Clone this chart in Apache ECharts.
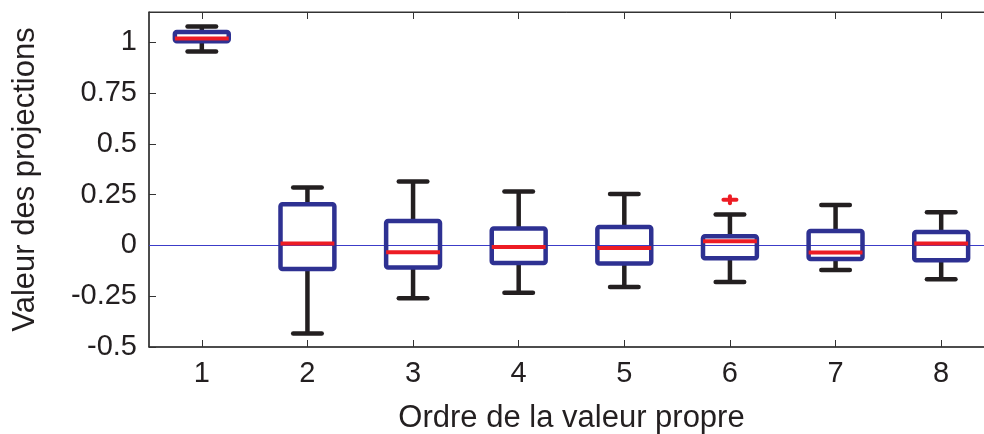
<!DOCTYPE html>
<html>
<head>
<meta charset="utf-8">
<script src="https://cdn.jsdelivr.net/npm/echarts@6/dist/echarts.min.js"></script>
<style>html,body{margin:0;padding:0;background:#fff;}#c{width:984px;height:434px;}</style>
</head>
<body>
<div id="c"></div>
<script>
const categories = ['1','2','3','4','5','6','7','8'];
const whiskerLow  = [0.955, -0.433, -0.260, -0.233, -0.205, -0.180, -0.121, -0.166];
const q1          = [1.006, -0.116, -0.108, -0.086, -0.089, -0.063, -0.066, -0.073];
const median      = [1.019,  0.010, -0.033, -0.008, -0.012,  0.021, -0.035,  0.010];
const q3          = [1.052,  0.203,  0.120,  0.084,  0.091,  0.046,  0.071,  0.067];
const whiskerHigh = [1.078,  0.286,  0.315,  0.266,  0.253,  0.152,  0.200,  0.164];
const outliers    = [['6', 0.225]];
const referenceLevel = [0];
const yTicks = [-0.5, -0.25, 0, 0.25, 0.5, 0.75, 1];

const FONT = 'Liberation Sans, Arial, Helvetica, sans-serif';
const BLUE = '#2e3192', RED = '#ed1c24', BLACK = '#231f20', REFBLUE = '#3c3cc8';

const boxData = categories.map((c, i) => [i, whiskerLow[i], q1[i], median[i], q3[i], whiskerHigh[i]]);
const outlierData = outliers.map(o => [categories.indexOf(o[0]), o[1]]);
const refData = referenceLevel.map(v => [0, v]);

function renderBox(params, api) {
  const x = api.value(0);
  const pLow = api.coord([x, api.value(1)]);
  const pQ1 = api.coord([x, api.value(2)]);
  const pMed = api.coord([x, api.value(3)]);
  const pQ3 = api.coord([x, api.value(4)]);
  const pHigh = api.coord([x, api.value(5)]);
  const band = api.size([1, 0])[0];
  const bw = band * 0.51, cw = band * 0.27;
  const cx = pMed[0];
  const wStyle = {stroke: BLACK, lineWidth: 4.5, lineCap: 'round'};
  return {
    type: 'group',
    children: [
      {type: 'line', shape: {x1: cx, y1: pQ3[1], x2: cx, y2: pHigh[1]}, style: {stroke: BLACK, lineWidth: 4.5}},
      {type: 'line', shape: {x1: cx, y1: pQ1[1], x2: cx, y2: pLow[1]}, style: {stroke: BLACK, lineWidth: 4.5}},
      {type: 'line', shape: {x1: cx - cw/2, y1: pHigh[1], x2: cx + cw/2, y2: pHigh[1]}, style: wStyle},
      {type: 'line', shape: {x1: cx - cw/2, y1: pLow[1], x2: cx + cw/2, y2: pLow[1]}, style: wStyle},
      {type: 'rect', shape: {x: cx - bw/2, y: pQ3[1], width: bw, height: pQ1[1] - pQ3[1], r: 2},
        style: {stroke: BLUE, lineWidth: 4.5, fill: 'rgba(0,0,0,0)', lineJoin: 'round'}},
      {type: 'line', shape: {x1: cx - bw/2, y1: pMed[1], x2: cx + bw/2, y2: pMed[1]}, style: {stroke: RED, lineWidth: 4}}
    ]
  };
}

function renderOutlier(params, api) {
  const p = api.coord([api.value(0), api.value(1)]);
  return {
    type: 'group',
    children: [
      {type: 'line', shape: {x1: p[0]-6.5, y1: p[1], x2: p[0]+6.5, y2: p[1]}, style: {stroke: RED, lineWidth: 4, lineCap: 'round'}},
      {type: 'line', shape: {x1: p[0], y1: p[1]-3.5, x2: p[0], y2: p[1]+3.5}, style: {stroke: RED, lineWidth: 4, lineCap: 'round'}}
    ]
  };
}

function renderRefLine(params, api) {
  const cs = params.coordSys;
  const y = Math.round(api.coord([0, api.value(1)])[1]) + 0.5;
  return {
    type: 'line',
    shape: {x1: cs.x, y1: y, x2: cs.x + cs.width, y2: y},
    style: {stroke: REFBLUE, lineWidth: 1}
  };
}

const chart = echarts.init(document.getElementById('c'), null, {renderer: 'canvas'});
chart.setOption({
  animation: false,
  backgroundColor: '#fff',
  grid: {left: 149, top: 12, right: -10, bottom: 87, containLabel: false, outerBoundsMode: 'none',
    show: true, borderColor: '#333', borderWidth: 1, backgroundColor: 'transparent'},
  xAxis: [{
    type: 'category', data: categories, position: 'bottom',
    name: 'Ordre de la valeur propre', nameLocation: 'middle', nameGap: 56,
    nameTextStyle: {fontFamily: FONT, fontSize: 31, color: '#231f20'},
    axisLine: {show: true, onZero: false, lineStyle: {color: '#333', width: 1.5}},
    axisTick: {show: true, inside: true, alignWithLabel: true, length: 7, lineStyle: {color: '#333'}},
    axisLabel: {fontFamily: FONT, fontSize: 29, color: '#231f20', margin: 12},
    splitLine: {show: false}
  }, {
    type: 'category', data: categories, position: 'top',
    axisLine: {show: true, onZero: false, lineStyle: {color: '#333', width: 1}},
    axisTick: {show: true, inside: true, alignWithLabel: true, length: 7, lineStyle: {color: '#333'}},
    axisLabel: {show: false}, splitLine: {show: false}
  }],
  yAxis: {
    type: 'value', min: -0.5, max: 1.15, interval: 0.25,
    name: 'Valeur des projections', nameLocation: 'middle', nameGap: 108,
    nameTextStyle: {fontFamily: FONT, fontSize: 31, color: '#231f20'},
    axisLine: {show: true, onZero: false, lineStyle: {color: '#333', width: 1.5}},
    axisTick: {show: true, inside: true, length: 7, lineStyle: {color: '#333'}},
    axisLabel: {fontFamily: FONT, fontSize: 29, color: '#231f20', margin: 12, showMaxLabel: false,
      formatter: v => yTicks.some(t => Math.abs(t - v) < 1e-9) ? String(+v.toFixed(2)) : ''},
    splitLine: {show: false}
  },
  series: [{
    type: 'custom', renderItem: renderRefLine, data: refData, encode: {x: 0, y: 1}, z: 1, silent: true
  }, {
    type: 'custom', renderItem: renderBox, data: boxData, encode: {x: 0, y: [1,2,3,4,5]}, z: 3
  }, {
    type: 'custom', renderItem: renderOutlier, data: outlierData, encode: {x: 0, y: 1}, z: 4
  }]
});
</script>
</body>
</html>
